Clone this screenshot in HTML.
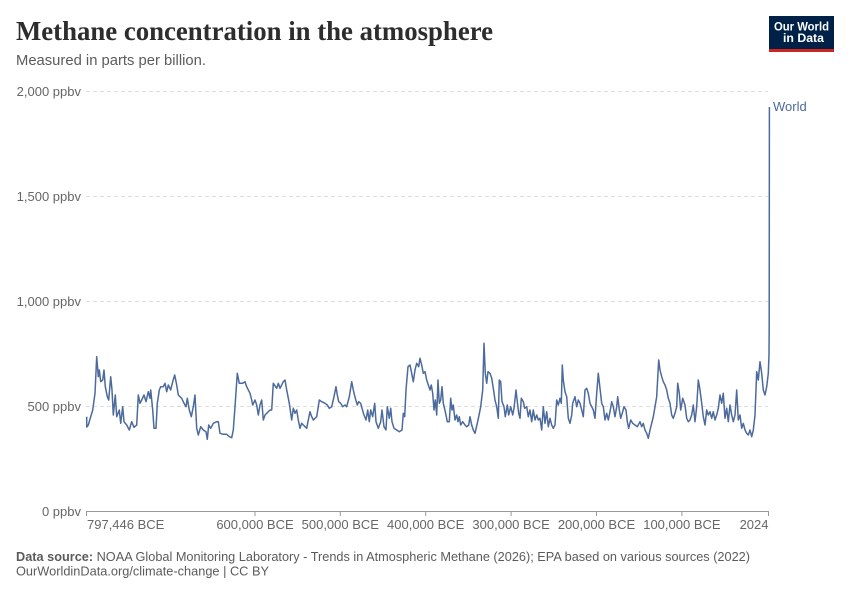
<!DOCTYPE html>
<html>
<head>
<meta charset="utf-8">
<style>
  html,body{margin:0;padding:0;background:#fff;}
  svg{display:block;}
  text{font-family:"Liberation Sans",sans-serif;}
</style>
</head>
<body>
<svg width="850" height="600" viewBox="0 0 850 600" xmlns="http://www.w3.org/2000/svg">
  <rect width="850" height="600" fill="#fff"/>
  <!-- Title -->
  <text x="16" y="40" font-family="Liberation Serif, serif" font-size="27" font-weight="bold" fill="#2d2d2d" textLength="477" lengthAdjust="spacingAndGlyphs" style="font-family:'Liberation Serif',serif">Methane concentration in the atmosphere</text>
  <text x="16" y="65" font-size="14.5" fill="#5b5b5b" textLength="190" lengthAdjust="spacingAndGlyphs">Measured in parts per billion.</text>

  <!-- Logo -->
  <rect x="769" y="16" width="65" height="36" fill="#002147"/>
  <rect x="769" y="49" width="65" height="3" fill="#ce261e"/>
  <text x="801.5" y="30.5" font-size="12" font-weight="bold" fill="#fff" text-anchor="middle" textLength="55" lengthAdjust="spacingAndGlyphs">Our World</text>
  <text x="803.5" y="42" font-size="12" font-weight="bold" fill="#fff" text-anchor="middle" textLength="41" lengthAdjust="spacingAndGlyphs">in Data</text>

  <!-- Gridlines -->
  <g stroke="#dddddd" stroke-width="1" stroke-dasharray="4,3">
    <line x1="86" y1="91.5" x2="768" y2="91.5"/>
    <line x1="86" y1="196.5" x2="768" y2="196.5"/>
    <line x1="86" y1="301.5" x2="768" y2="301.5"/>
    <line x1="86" y1="406.5" x2="768" y2="406.5"/>
  </g>

  <!-- Y labels -->
  <g font-size="13" fill="#666" text-anchor="end">
    <text x="81" y="96">2,000 ppbv</text>
    <text x="81" y="201">1,500 ppbv</text>
    <text x="81" y="306">1,000 ppbv</text>
    <text x="81" y="411">500 ppbv</text>
    <text x="81" y="516">0 ppbv</text>
  </g>

  <!-- X axis -->
  <line x1="86" y1="511.5" x2="769" y2="511.5" stroke="#999" stroke-width="1"/>
  <g stroke="#999" stroke-width="1">
    <line x1="86.5" y1="511.5" x2="86.5" y2="516"/>
    <line x1="255" y1="511.5" x2="255" y2="516"/>
    <line x1="340.3" y1="511.5" x2="340.3" y2="516"/>
    <line x1="425.7" y1="511.5" x2="425.7" y2="516"/>
    <line x1="511.1" y1="511.5" x2="511.1" y2="516"/>
    <line x1="596.5" y1="511.5" x2="596.5" y2="516"/>
    <line x1="681.9" y1="511.5" x2="681.9" y2="516"/>
    <line x1="768.5" y1="511.5" x2="768.5" y2="516"/>
  </g>
  <g font-size="13" fill="#666">
    <text x="87" y="529">797,446 BCE</text>
    <text x="255" y="529" text-anchor="middle">600,000 BCE</text>
    <text x="340.3" y="529" text-anchor="middle">500,000 BCE</text>
    <text x="425.7" y="529" text-anchor="middle">400,000 BCE</text>
    <text x="511.1" y="529" text-anchor="middle">300,000 BCE</text>
    <text x="596.5" y="529" text-anchor="middle">200,000 BCE</text>
    <text x="681.9" y="529" text-anchor="middle">100,000 BCE</text>
    <text x="768.5" y="529" text-anchor="end">2024</text>
  </g>

  <!-- Series -->
  <polyline fill="none" stroke="#4c6a9c" stroke-width="1.5" stroke-linejoin="round" points="
86.7,416.7 86.7,427 88.3,425 90.7,416.7 92.7,410 95,393.3 96.7,356.7 98.3,376.7 99.3,370 100.7,381.7 102.7,380 104,370 105.3,386.7 107.3,396.7 108.7,400 110.7,376.7 112,390 113.3,415 115.3,395 116.7,416.7 119.3,410 120.7,423.3 122.7,406.7 124,421.7 126.7,425 129.3,430 131.7,421.7 134,427.3 136.7,425 138.3,395 140,403.3 141.7,400 144,395 146,401.7 148.3,391.7 150,398.3 150.7,390 152.7,410 154,428.3 156,428.3 157.3,403.3 159.3,390 160.7,386.7 163.3,386.7 165,383.3 166.7,391.7 168.3,385 170.7,390 172.7,381.7 174.7,375 176.7,385 178.3,395 181.7,398.3 184,403.3 186,406.7 187.3,398.3 189.3,410 191.3,416.7 193.3,406.7 195,395 196.7,428.3 198.3,435 200.7,426.7 203.3,430 206,431.7 207.3,439.3 208.7,425 210.7,428.3 213.3,423.3 216.7,421.7 218.3,421.7 220,433.3 223.3,434.3 226.7,434.3 229.3,436.7 231.7,437.7 233.3,430 235,406.7 237.3,373.3 239.3,383.3 242.7,383.3 245,381.7 246.7,386.7 250,393.3 251.7,400 252.7,405 255,400 256.7,405 258.3,415 260,405 261.7,400 263.3,420 265,415 266.7,413.3 270,410 271.7,410 273.3,383.3 276.7,388.3 278.3,383.3 280,388.3 283.3,381.7 285,380 286.7,390 289.3,403.3 291.7,420 293.3,408.3 295,413.3 296.7,410 298.3,420 300,428.3 301.7,423.3 303.3,425 306.7,428.3 308.3,420 310,411.7 311.7,416.7 313.3,420 316.7,416.7 319.3,400 321.7,401.7 325,403.3 327.3,405 329.3,408.3
331.7,406.7 334,396.7 336,386.7 337.3,395 338.7,401.7 340.7,403.3 342.7,406.7 345,405 346.7,406.7 349.3,396.7 351.7,381.7 353.3,390 355.3,398.3 357.3,405 358.7,401.7 360.7,403.3 362,408.3 364,415 366,420 367.7,410 369.3,421.7 370.7,410 372.7,416.7 374.7,403.3 376,421.7 378.3,428.3 380.7,421.7 382,410 384,426.7 386,430 387.3,406.7 389.3,418.3 390.7,408.3 392,421.7 394,428.3 396.7,430 399.3,431.7 402,430 403.3,413.3 404.7,416.7 406,390 408,366.7 410,365 411.7,373.3 413.3,381.7 415,370 416.7,363.3 418.7,366.7 420,358.3 421.7,365 423.3,373.3 425,371.7 426.7,380 428.3,385 430,390 431.3,385 432.7,393.3 434,410 435.3,400 436.7,415 438,380 439.3,403.3 440.7,400 442,386.7 443.3,403.3 445.3,411.7 447.3,421.7 449.3,421.7 450.7,398.3 452,410 453.3,405 455,420 456.7,415 458,421.7 459.3,416.7 460.7,425 462.7,421.7 465,425 466.7,426.7 468.7,425 470,416.7 471.7,425 473.3,430 475,433.3 477.3,423.3 478.7,416.7 480.7,406.7 482.7,390 484,343.3 485.3,373.3 486.7,383.3 488,371.7 490,373.3 491.7,378.3 493.3,388.3 495,400 496.7,406.7 498.3,418.3 499.3,380 500.7,381.7 502,401.7 504,406.7 505.3,416.7 507.3,405 508.7,415 510.7,406.7 512.7,415 514,408.3 516,390 517.3,401.7 518.7,413.3 520,418.3 521.3,398.3 523.3,401.7 524.7,408.3 526.7,406.7 528.3,416.7 530,410 531.7,421.7 533.3,410 535,420 536.7,415 538.3,420 540,418.3 541.7,430
543.3,406.7 545,423.3 546.7,411.7 548.3,426.7 550,418.3 551.7,425 553.3,428.3 555,425 556.7,400 558.3,405 560,398.3 561.3,403.3 562.3,365 563.3,380 565,391.7 566.7,396.7 568.3,418.3 570,423.3 571.7,415 572.7,403.3 575,396.7 576.7,406.7 578.3,400 580,403.3 581.7,410 583.3,416.7 585,390 586.7,388.3 588.3,393.3 590,403.3 591.7,406.7 593.3,410 595,418.3 596.7,393.3 598.3,373.3 600,388.3 601.7,403.3 603.3,406.7 605,420 606.7,413.3 608.3,420 610,411.7 611.7,401.7 613.3,406.7 615,416.7 616.7,406.7 617.7,396.7 619.3,410 620.7,418.3 622.7,411.7 624,406.7 626,410 627.3,421.7 628.7,428.3 630.7,420 632.7,423.3 635,425 637.3,426.7 640,421.7 641.7,426.7 643.3,423.3 645,430 646.7,433.3 648.3,438.3 650,430 651.7,423.3 653.3,416.7 655,406.7 656.7,396.7 658.7,360 660,370 661.7,376.7 663.3,381.7 665,385 666.7,390 668.3,398.3 670,403.3 671.7,415 673.3,418.3 675,413.3 676.7,406.7 677.7,383.3 679.3,393.3 680.7,410 682.7,398.3 685,405 686.7,418.3 688.3,421.7 690,420 691.7,415 693.3,405 695,421.7 696.7,406.7 698.3,380 700,390 701.7,403.3 703.3,416.7 705,425 706.7,410 708.3,415 710,411.7 711.7,418.3 713.3,411.7 715,420 716.7,415 718.3,408.3 720,395 721.7,403.3 723.3,393.3 725,418.3 726.7,408.3 728.3,421.7 730,405 731.7,415 733.3,421.7 735,415 736.7,390 738.3,420 740,415 741.7,428.3 743.3,423.3 745,430 746.7,433.3 748.3,435 750,430 751.7,436.7 753.3,430 755,415 756.7,371.7 758.3,380 760,361.7 761.7,373.3 763.3,390 765,395 766.7,386.7 768.3,373.3 769,355 769.2,326 769.4,107"/>

  <text x="773" y="111" font-size="13" fill="#4c6a9c">World</text>

  <!-- Footer -->
  <text x="16" y="561" font-size="13" fill="#5b5b5b" textLength="734" lengthAdjust="spacingAndGlyphs"><tspan font-weight="bold">Data source:</tspan> NOAA Global Monitoring Laboratory - Trends in Atmospheric Methane (2026); EPA based on various sources (2022)</text>
  <text x="16" y="575.5" font-size="13" fill="#5b5b5b" textLength="253" lengthAdjust="spacingAndGlyphs">OurWorldinData.org/climate-change | CC BY</text>
</svg>
</body>
</html>
